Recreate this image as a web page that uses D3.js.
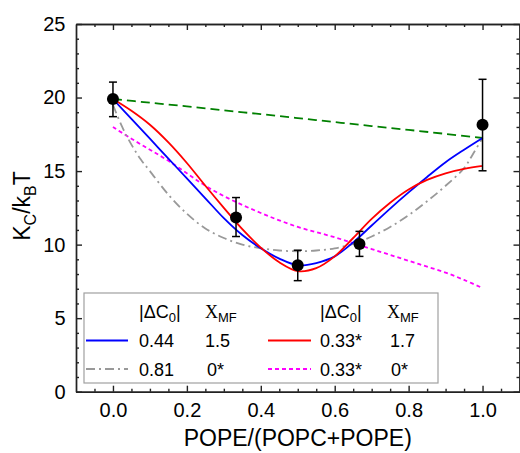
<!DOCTYPE html>
<html>
<head>
<meta charset="utf-8">
<script src="https://cdn.jsdelivr.net/npm/d3@7"></script>
<style>
  body { margin: 0; background: #fff; }
  text { font-family: "Liberation Sans", Arial, sans-serif; fill: #000; }
</style>
</head>
<body>
<script>
// measured points
var ptX   = [0, 0.333, 0.5, 0.667, 1.0];
var ptY   = [19.9, 11.85, 8.6, 10.05, 18.15];
var ptLo  = [18.7, 10.55, 7.55, 9.2, 15.02];
var ptHi  = [21.05, 13.2, 9.62, 10.9, 21.24];

// model curves
var gridX  = [0, 0.05, 0.1, 0.15, 0.2, 0.25, 0.3, 0.35, 0.4, 0.45, 0.5, 0.55, 0.6, 0.65, 0.7, 0.75, 0.8, 0.85, 0.9, 0.95, 1.0];
var blueY  = [19.9, 18.55, 17.2, 15.85, 14.5, 13.15, 11.8, 10.65, 9.75, 9.05, 8.6, 8.75, 9.2, 10.15, 11.3, 12.45, 13.55, 14.6, 15.6, 16.45, 17.25];
var redY   = [19.9, 19.1, 18.15, 16.95, 15.55, 14.0, 12.5, 11.05, 9.8, 8.8, 8.2, 8.4, 9.2, 10.45, 11.75, 12.85, 13.75, 14.4, 14.85, 15.15, 15.35];
var pinkY  = [18.0, 17.2, 16.45, 15.7, 14.85, 14.0, 13.3, 12.7, 12.15, 11.65, 11.2, 10.85, 10.5, 10.1, 9.7, 9.3, 8.9, 8.5, 8.1, 7.6, 7.05];
var greenX = [0, 0.1, 0.2, 0.3, 0.4, 0.5, 0.6, 0.7, 0.8, 0.9, 1.0];
var greenY = [19.9, 19.65, 19.4, 19.13, 18.87, 18.6, 18.33, 18.06, 17.8, 17.53, 17.25];
var grayX  = [0, 0.025, 0.05, 0.075, 0.1, 0.15, 0.2, 0.25, 0.3, 0.35, 0.4, 0.45, 0.5, 0.55, 0.6, 0.65, 0.7, 0.75, 0.8, 0.85, 0.9, 0.95, 0.975, 1.0];
var grayY  = [19.5, 18.0, 16.8, 15.8, 15.0, 13.4, 12.1, 11.1, 10.45, 10.0, 9.75, 9.6, 9.55, 9.6, 9.75, 10.05, 10.55, 11.2, 12.0, 12.95, 14.0, 15.2, 16.2, 17.25];

var xTicks = [0, 0.2, 0.4, 0.6, 0.8, 1.0];
var yTicks = [0, 5, 10, 15, 20, 25];

var W = 520, H = 453;
var plotL = 76, plotR = 519.5, plotT = 24, plotB = 391.7;
var FONT = "Liberation Sans, Arial, sans-serif";

var svg = d3.select("body").append("svg")
  .attr("width", W).attr("height", H);

var x = d3.scaleLinear().domain([-0.1, 1.1]).range([plotL, plotR]);
var y = d3.scaleLinear().domain([0, 25]).range([plotB, plotT]);

var xMinor = d3.range(-0.05, 1.1, 0.05).filter(function (v) { return Math.abs(Math.round(v * 5) - v * 5) > 1e-6; });
var yMinor = d3.range(1, 25, 1).filter(function (v) { return v % 5 !== 0; });

function frameAxis(axis, tr) {
  var g = svg.append("g").attr("transform", tr).call(axis);
  g.attr("font-size", null).attr("font-family", null);
  g.selectAll("path, line").attr("stroke", "#222").attr("stroke-width", 1.4);
  return g;
}

// major ticks (inward) + labels
var gx = frameAxis(d3.axisBottom(x).tickValues(xTicks).tickSize(-6).tickSizeOuter(0)
  .tickPadding(11).tickFormat(d3.format(".1f")), "translate(0," + plotB + ")");
gx.selectAll("text").style("font-size", "20px").style("font-family", FONT);
var gy = frameAxis(d3.axisLeft(y).tickValues(yTicks).tickSize(-6).tickSizeOuter(0)
  .tickPadding(10.5), "translate(" + plotL + ",0)");
gy.selectAll("text").style("font-size", "20px").style("font-family", FONT);
frameAxis(d3.axisTop(x).tickValues(xTicks).tickSize(-6).tickSizeOuter(0).tickFormat(""), "translate(0," + plotT + ")");
frameAxis(d3.axisRight(y).tickValues(yTicks).tickSize(-6).tickSizeOuter(0).tickFormat(""), "translate(" + plotR + ",0)");

// minor ticks
frameAxis(d3.axisBottom(x).tickValues(xMinor).tickSize(-3).tickSizeOuter(0).tickFormat(""), "translate(0," + plotB + ")");
frameAxis(d3.axisTop(x).tickValues(xMinor).tickSize(-3).tickSizeOuter(0).tickFormat(""), "translate(0," + plotT + ")");
frameAxis(d3.axisLeft(y).tickValues(yMinor).tickSize(-3).tickSizeOuter(0).tickFormat(""), "translate(" + plotL + ",0)");
frameAxis(d3.axisRight(y).tickValues(yMinor).tickSize(-3).tickSizeOuter(0).tickFormat(""), "translate(" + plotR + ",0)");

// axis titles
svg.append("text")
  .attr("x", (plotL + plotR) / 2).attr("y", 446)
  .attr("text-anchor", "middle").style("font-size", "23px")
  .text("POPE/(POPC+POPE)");

var yt = svg.append("text")
  .attr("transform", "translate(30,206) rotate(-90)")
  .attr("text-anchor", "middle").style("font-size", "23px");
yt.append("tspan").text("K");
yt.append("tspan").attr("dy", 6).style("font-size", "16px").text("C");
yt.append("tspan").attr("dy", -6).text("/k");
yt.append("tspan").attr("dy", 6).style("font-size", "16px").text("B");
yt.append("tspan").attr("dy", -6).text("T");

// curves
var series = [
  { xs: greenX, ys: greenY, color: "#008000", dash: "9,5" },
  { xs: gridX, ys: pinkY, color: "#ff00ff", dash: "4,3" },
  { xs: grayX, ys: grayY, color: "#999999", dash: "9,4,2,4" },
  { xs: gridX, ys: blueY, color: "#0000ff", dash: null },
  { xs: gridX, ys: redY, color: "#ff0000", dash: null }
];

var line = d3.line()
  .x(function (d) { return x(d[0]); })
  .y(function (d) { return y(d[1]); })
  .curve(d3.curveCatmullRom.alpha(0.5));

series.forEach(function (s) {
  svg.append("path")
    .datum(d3.zip(s.xs, s.ys))
    .attr("fill", "none")
    .attr("stroke", s.color)
    .attr("stroke-width", 1.8)
    .attr("stroke-dasharray", s.dash)
    .attr("d", line);
});

// error bars
var pts = ptX.map(function (v, i) { return { x: v, y: ptY[i], lo: ptLo[i], hi: ptHi[i] }; });
var eb = svg.append("g").attr("stroke", "#000").attr("stroke-width", 1.5);
eb.selectAll(".v").data(pts).enter().append("line")
  .attr("x1", function (d) { return x(d.x); }).attr("x2", function (d) { return x(d.x); })
  .attr("y1", function (d) { return y(d.lo); }).attr("y2", function (d) { return y(d.hi); });
eb.selectAll(".t").data(pts).enter().append("line")
  .attr("x1", function (d) { return x(d.x) - 4; }).attr("x2", function (d) { return x(d.x) + 4; })
  .attr("y1", function (d) { return y(d.hi); }).attr("y2", function (d) { return y(d.hi); });
eb.selectAll(".b").data(pts).enter().append("line")
  .attr("x1", function (d) { return x(d.x) - 4; }).attr("x2", function (d) { return x(d.x) + 4; })
  .attr("y1", function (d) { return y(d.lo); }).attr("y2", function (d) { return y(d.lo); });

svg.selectAll(".dot").data(pts).enter().append("circle")
  .attr("cx", function (d) { return x(d.x); })
  .attr("cy", function (d) { return y(d.y); })
  .attr("r", 6).attr("fill", "#000");

// legend
var lg = svg.append("g");
lg.append("rect").attr("x", 84).attr("y", 293).attr("width", 354).attr("height", 90)
  .attr("fill", "#fff").attr("stroke", "#a0a0a0").attr("stroke-width", 1.2);

var legendRows = [
  { color: "#0000ff", dash: null, x0: 86, x1: 128, tx: 139, mx: 205, row: 0, c0: "0.44", xmf: "1.5" },
  { color: "#999999", dash: "9,4,2,4", x0: 86, x1: 128, tx: 139, mx: 207, row: 1, c0: "0.81", xmf: "0*" },
  { color: "#ff0000", dash: null, x0: 268, x1: 311, tx: 320, mx: 390, row: 0, c0: "0.33*", xmf: "1.7" },
  { color: "#ff00ff", dash: "4,3", x0: 268, x1: 311, tx: 320, mx: 391, row: 1, c0: "0.33*", xmf: "0*" }
];
var rowY = [340.5, 369];

[[139, 205], [320, 387]].forEach(function (h) {
  var t1 = lg.append("text").attr("x", h[0]).attr("y", 317.5).style("font-size", "18px");
  t1.append("tspan").text("|\u0394C");
  t1.append("tspan").attr("dy", 4).style("font-size", "13px").text("0");
  t1.append("tspan").attr("dy", -4).text("|");
  var t2 = lg.append("text").attr("x", h[1]).attr("y", 317.5).style("font-size", "18px");
  t2.append("tspan").style("font-family", "Liberation Serif, Times New Roman, serif").text("X");
  t2.append("tspan").attr("dy", 4).style("font-size", "13px").text("MF");
});

legendRows.forEach(function (r) {
  var yy = rowY[r.row];
  lg.append("line").attr("x1", r.x0).attr("x2", r.x1).attr("y1", yy).attr("y2", yy)
    .attr("stroke", r.color).attr("stroke-width", 1.8).attr("stroke-dasharray", r.dash);
  lg.append("text").attr("x", r.tx).attr("y", yy + 6.5).style("font-size", "18px").text(r.c0);
  lg.append("text").attr("x", r.mx).attr("y", yy + 6.5).style("font-size", "18px").text(r.xmf);
});
</script>
</body>
</html>
